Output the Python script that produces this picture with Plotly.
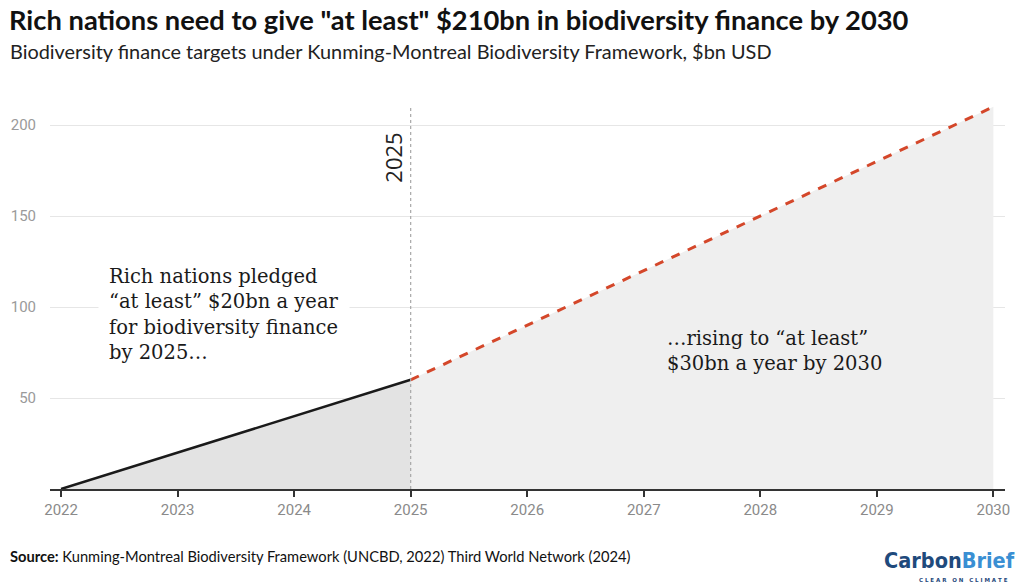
import plotly.graph_objects as go

years_pledged = [2022, 2023, 2024, 2025]
values_pledged = [0, 20, 40, 60]
years_future = [2025, 2026, 2027, 2028, 2029, 2030]
values_future = [60, 90, 120, 150, 180, 210]
x_ticks = [2022, 2023, 2024, 2025, 2026, 2027, 2028, 2029, 2030]
y_ticks = [50, 100, 150, 200]

title = "Rich nations need to give \"at least\" $210bn in biodiversity finance by 2030"
subtitle = "Biodiversity finance targets under Kunming-Montreal Biodiversity Framework, $bn USD"
source = "<b>Source:</b> Kunming-Montreal Biodiversity Framework (UNCBD, 2022) Third World Network (2024)"

# page body margin is removed below, so the figure fills the whole window
W, H = 1024, 588
L, R, T, B = 50, 19, 105, 99

def px_x(p):
    return (p - L) / (W - L - R)

def px_y(p):
    return (H - B - p) / (H - T - B)

fig = go.Figure()
fig.add_trace(go.Scatter(
    x=years_future, y=values_future, mode="lines",
    line=dict(color="#d4472a", width=3, dash="dash"),
    fill="tozeroy", fillcolor="#efefef", hoverinfo="skip", showlegend=False))
fig.add_trace(go.Scatter(
    x=years_pledged, y=values_pledged, mode="lines",
    line=dict(color="#1a1a1a", width=2.5),
    fill="tozeroy", fillcolor="#e3e3e3", hoverinfo="skip", showlegend=False))

fig.add_shape(type="line", xref="x", yref="paper", x0=2025, x1=2025, y0=0, y1=1,
              line=dict(color="#a8a8a8", width=1.2, dash="dot"))

fig.add_annotation(x=2025, xref="x", y=1, yref="paper", xanchor="right", yanchor="top",
                   xshift=-1, yshift=-26, text="2025", textangle=-90, showarrow=False,
                   font=dict(family="Open Sans", size=22, color="#222222"))

fig.add_annotation(x=2022.32, xref="x", y=96, yref="y", xanchor="left", yanchor="middle",
                   align="left", showarrow=False, bgcolor="white", borderpad=10,
                   text="Rich nations pledged<br>\u201cat least\u201d $20bn a year<br>for biodiversity finance<br>by 2025\u2026",
                   font=dict(family="DejaVu Serif", size=19.5, color="#1a1a1a"))

fig.add_annotation(x=2027.18, xref="x", y=76, yref="y", xanchor="left", yanchor="middle",
                   align="left", showarrow=False,
                   text="\u2026rising to \u201cat least\u201d<br>$30bn a year by 2030",
                   font=dict(family="DejaVu Serif", size=19.5, color="#1a1a1a"))

fig.add_annotation(x=px_x(8), y=px_y(20), xref="paper", yref="paper", xanchor="left", yanchor="middle",
                   text="<b>" + title + "</b>", showarrow=False, borderpad=0,
                   font=dict(family="Lato", size=27.3, color="#111111"))
fig.add_annotation(x=px_x(8), y=px_y(51), xref="paper", yref="paper", xanchor="left", yanchor="middle",
                   text=subtitle, showarrow=False,
                   font=dict(family="Lato", size=19.9, color="#222222"))
fig.add_annotation(x=px_x(8), y=px_y(556), xref="paper", yref="paper", xanchor="left", yanchor="middle",
                   text=source, showarrow=False,
                   font=dict(family="Lato", size=14.7, color="#111111"))
fig.add_annotation(x=px_x(949), y=px_y(560), xref="paper", yref="paper", xanchor="center", yanchor="middle",
                   text="<span style='color:#1f4a7c'>Carbon</span><span style='color:#3a8fd3'>Brief</span>",
                   showarrow=False,
                   font=dict(family="DejaVu Sans Condensed", size=21.5,
                             color="#1f4a7c", weight="bold"))
fig.add_annotation(x=px_x(963), y=px_y(580), xref="paper", yref="paper", xanchor="center", yanchor="middle",
                   text="C L E A R   O N   C L I M A T E", showarrow=False,
                   font=dict(family="DejaVu Sans", size=5.5, color="#1f4a7c", weight="bold"))

fig.update_layout(
    width=W, height=H,
    margin=dict(l=L, r=R, t=T, b=B, autoexpand=False),
    plot_bgcolor="white", paper_bgcolor="white",
    xaxis=dict(range=[2021.905, 2030.1], tickvals=x_ticks, ticktext=[str(v) for v in x_ticks],
               showgrid=False, zeroline=False, showline=True, linecolor="#333333", linewidth=1.5,
               ticks="outside", ticklen=6, tickcolor="#333333", tickwidth=1.5,
               tickfont=dict(family="Roboto", size=15, color="#8a8a8a")),
    yaxis=dict(range=[0, 211], tickvals=y_ticks, ticktext=[str(v) for v in y_ticks],
               showgrid=True, gridcolor="#e6e6e6", gridwidth=1, zeroline=False, showline=False,
               ticks="outside", ticklen=10, tickcolor="rgba(0,0,0,0)",
               tickfont=dict(family="Roboto", size=15, color="#9a9a9a")),
)

fig.write_html("out.html", config={"displayModeBar": False},
               post_script="document.body.style.margin='0';document.body.style.overflow='hidden';")
